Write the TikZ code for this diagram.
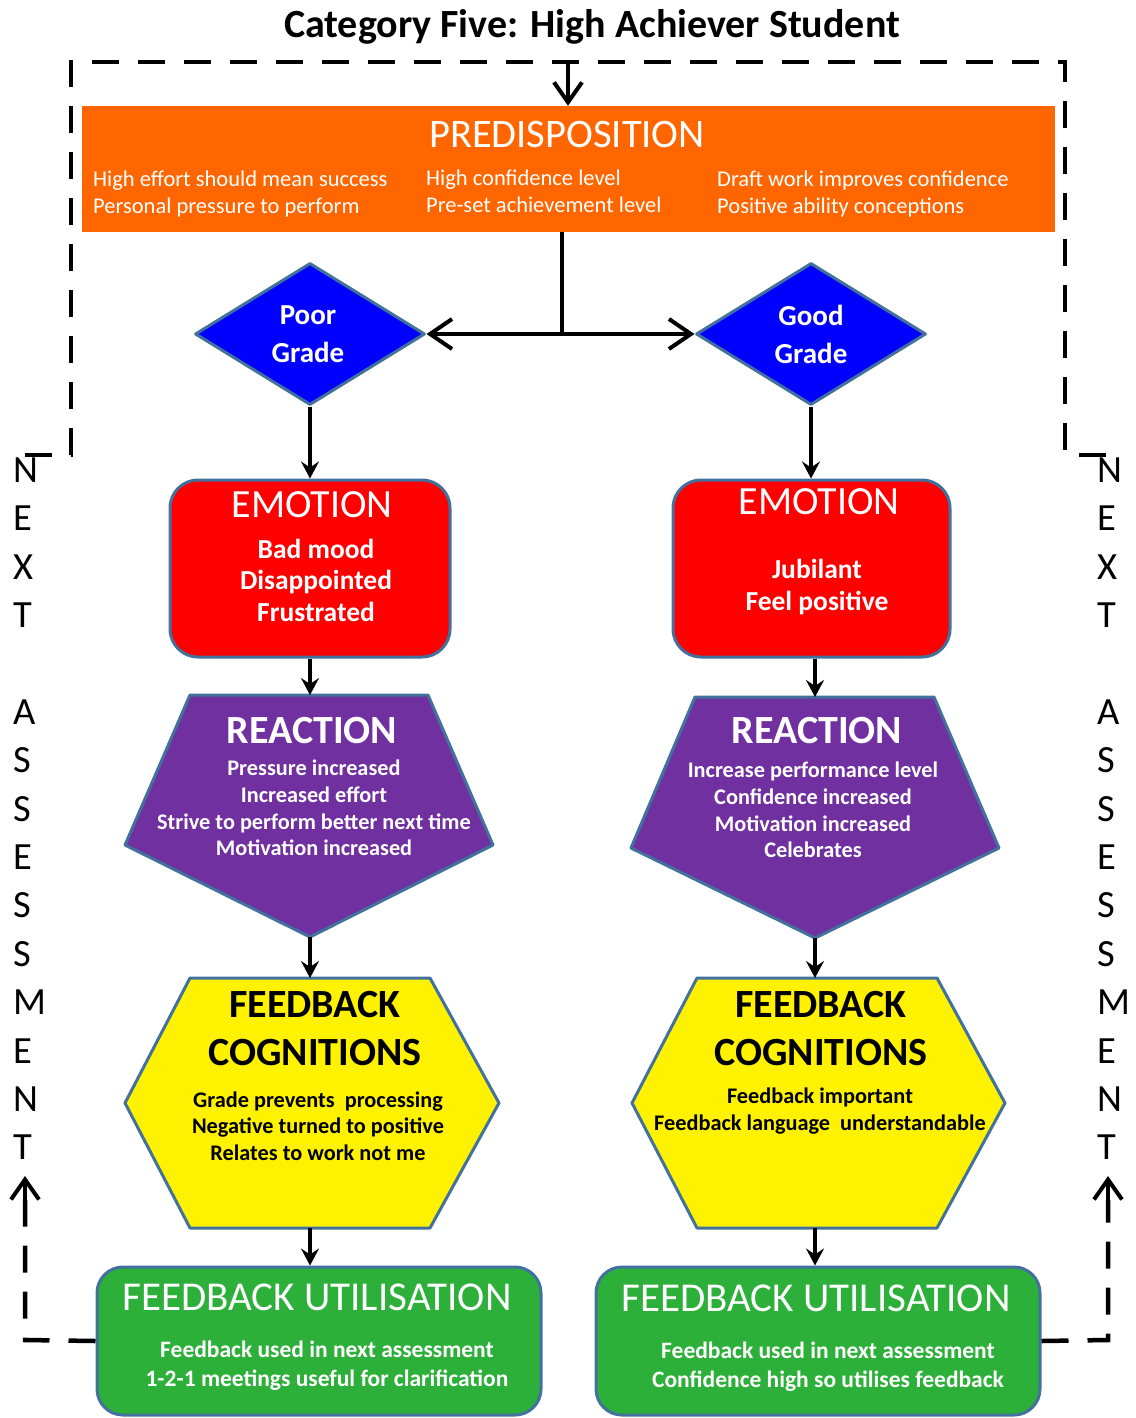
\documentclass[tikz,border=0pt]{standalone}
\usepackage{fontspec}
\setmainfont{Carlito}
\usetikzlibrary{arrows.meta,shapes.geometric}
\definecolor{bordc}{HTML}{41719C}
\definecolor{orng}{HTML}{FF6600}
\definecolor{purp}{HTML}{7030A0}
\definecolor{grn}{HTML}{2DB03A}
\newcommand\myfs[2]{\fontsize{#1}{#2}\selectfont}
\begin{document}
\begin{tikzpicture}[x=1pt,y=-1pt,
  shapeb/.style={draw=bordc, line width=3pt, line join=round},
  roundbox/.style={shapeb, rectangle, rounded corners=28pt, inner sep=0pt},
  conn/.style={line width=4pt, -{Stealth[length=17pt,width=18pt,inset=6pt]}},
  plainline/.style={line width=4pt},
  dbl/.style={line width=4pt, {Straight Barb[length=22pt,width=30pt]}-{Straight Barb[length=22pt,width=30pt]}},
  dashline/.style={line width=4.5pt, dash pattern=on 27pt off 19pt},
  barb/.style={-{Straight Barb[length=20pt,width=28pt]}},
  wtext/.style={text=white, inner sep=0pt, align=center},
  btext/.style={text=black, inner sep=0pt, align=center},
  letter/.style={inner sep=0pt, anchor=west, font=\myfs{38.5}{40}},
]
\useasboundingbox (0,0) rectangle (1135,1418);

% title
\node[inner sep=0pt, font=\bfseries\myfs{40}{44}] (title) at (592,27) {Category Five: High Achiever Student};

% predisposition
\node[rectangle, fill=orng, minimum width=973pt, minimum height=126pt, inner sep=0pt] (pre) at (568.5,169) {};
\node[wtext, font=\myfs{40.5}{44}] (pret) at (567,134) {PREDISPOSITION};
\node[wtext, anchor=west, align=left, font=\myfs{22.5}{27}] (pre1) at (93,193.5) {High effort should mean success\\Personal pressure to perform};
\node[wtext, anchor=west, align=left, font=\myfs{22.5}{27}] (pre2) at (426,191.5) {High confidence level\\Pre-set achievement level};
\node[wtext, anchor=west, align=left, font=\myfs{22.5}{27}] (pre3) at (717,193.5) {Draft work improves confidence\\Positive ability conceptions};

% dashed frame
\coordinate (dtop) at (568,62);
\draw[dashline] (25,455) -- (71,455) -- (71,62) -- (1065,62) -- (1065,455) -- (1110,455);
\draw[line width=4pt, barb] (dtop) -- (pre.north -| dtop);

% diamonds
\node[shapeb, fill=blue, diamond, minimum width=230pt, minimum height=142pt, inner sep=0pt] (poor) at (310,334) {};
\node[shapeb, fill=blue, diamond, minimum width=230pt, minimum height=142pt, inner sep=0pt] (good) at (811,334) {};
\node[wtext, font=\bfseries\myfs{29}{38}] (poort) at (308,334) {Poor\\Grade};
\node[wtext, font=\bfseries\myfs{29}{38}] (goodt) at (811,334) {Good\\Grade};

% split connector
\coordinate (jn) at (562,334);
\draw[plainline] (pre.south -| jn) -- (jn);
\draw[dbl] (poor.east) -- (good.west);

% emotion boxes
\node[roundbox, fill=red, minimum width=280pt, minimum height=177pt] (emoL) at (310,568.5) {};
\node[roundbox, fill=red, minimum width=277pt, minimum height=177pt] (emoR) at (811.5,568.5) {};
\node[wtext, font=\myfs{40}{44}] (emoLt) at (312,505) {EMOTION};
\node[wtext, font=\bfseries\myfs{27.5}{31.5}] (emoLb) at (316,580) {Bad mood\\Disappointed\\Frustrated};
\node[wtext, font=\myfs{40}{44}] (emoRt) at (819,502) {EMOTION};
\node[wtext, font=\bfseries\myfs{27.5}{32}] (emoRb) at (817,587) {Jubilant\\Feel positive};

\draw[conn] (poor.south) -- (emoL.north);
\draw[conn] (good.south) -- (good.south |- emoR.north);

% reaction pentagons
\coordinate (reaLt) at (310,695);
\coordinate (reaLb) at (310,937);
\coordinate (reaRt) at (815,697);
\coordinate (reaRb) at (815,938);
\draw[shapeb, fill=purp] (190,695) -- (428,695) -- (493,845) -- (reaLb) -- (125,845) -- cycle;
\draw[shapeb, fill=purp] (695,697) -- (934,697) -- (999,848) -- (reaRb) -- (631,848) -- cycle;
\node[wtext, font=\bfseries\myfs{40}{44}] (reaLtt) at (312,731) {REACTION};
\node[wtext, font=\bfseries\myfs{22.3}{26.6}] (reaLbb) at (314,808) {Pressure increased\\Increased effort\\Strive to perform better next time\\Motivation increased};
\node[wtext, font=\bfseries\myfs{40}{44}] (reaRtt) at (817,731) {REACTION};
\node[wtext, font=\bfseries\myfs{22.3}{26.6}] (reaRbb) at (813,810) {Increase performance level\\Confidence increased\\Motivation increased\\Celebrates};

\draw[conn] (emoL.south) -- (reaLt);
\draw[conn] (emoR.south -| reaRt) -- (reaRt);

% feedback cognitions hexagons
\coordinate (hexLt) at (310,978);
\coordinate (hexLb) at (310,1228);
\coordinate (hexRt) at (815,978);
\coordinate (hexRb) at (815,1228);
\draw[shapeb, fill=yellow] (190,978) -- (430,978) -- (499,1103) -- (430,1228) -- (190,1228) -- (125,1103) -- cycle;
\draw[shapeb, fill=yellow] (697,978) -- (937,978) -- (1005,1103) -- (937,1228) -- (697,1228) -- (632,1103) -- cycle;
\node[btext, font=\bfseries\myfs{40}{48}] (hexLtt) at (315,1029) {FEEDBACK\\COGNITIONS};
\node[btext, font=\bfseries\myfs{22.3}{26.6}] (hexLbb) at (318,1126) {Grade prevents~ processing\\Negative turned to positive\\Relates to work not me};
\node[btext, font=\bfseries\myfs{40}{48}] (hexRtt) at (821,1029) {FEEDBACK\\COGNITIONS};
\node[btext, font=\bfseries\myfs{22.3}{26.6}] (hexRbb) at (820,1111) {Feedback important\\Feedback language~ understandable};

\draw[conn] (reaLb) -- (hexLt);
\draw[conn] (reaRb) -- (hexRt);

% feedback utilisation
\node[roundbox, fill=grn, minimum width=444pt, minimum height=148pt, rounded corners=26pt] (fuL) at (319,1341) {};
\node[roundbox, fill=grn, minimum width=444pt, minimum height=148pt, rounded corners=26pt] (fuR) at (818,1341) {};
\node[wtext, font=\myfs{41}{44}] (fuLt) at (317,1297) {FEEDBACK UTILISATION};
\node[wtext, font=\bfseries\myfs{23.5}{29}] (fuLb) at (327,1366) {Feedback used in next assessment\\1-2-1 meetings useful for clarification};
\node[wtext, font=\myfs{41}{44}] (fuRt) at (816,1298) {FEEDBACK UTILISATION};
\node[wtext, font=\bfseries\myfs{23.5}{29}] (fuRb) at (828,1367) {Feedback used in next assessment\\Confidence high so utilises feedback};

\draw[conn] (hexLb) -- (hexLb |- fuL.north);
\draw[conn] (hexRb) -- (hexRb |- fuR.north);

% next assessment side loops
\coordinate (sideL) at (25,1340);
\coordinate (sideLtip) at (25,1176);
\coordinate (sideR) at (1108,1340);
\coordinate (sideRtip) at (1108,1176);
\draw[dashline] (fuL.west) -- (sideL) -- (25,1200);
\draw[line width=4pt, barb] (25,1212) -- (sideLtip);
\draw[dashline] (fuR.east) -- (sideR) -- (1108,1200);
\draw[line width=4pt, barb] (1108,1212) -- (sideRtip);

\foreach \l/\k in {N/0,E/1,X/2,T/3,A/5,S/6,S/7,E/8,S/9,S/10,M/11,E/12,N/13,T/14} {
  \node[letter] (nl\k) at (13,470+48.4*\k) {\l};
  \node[letter] (nr\k) at (1097,470+48.4*\k) {\l};
}
\end{tikzpicture}
\end{document}
